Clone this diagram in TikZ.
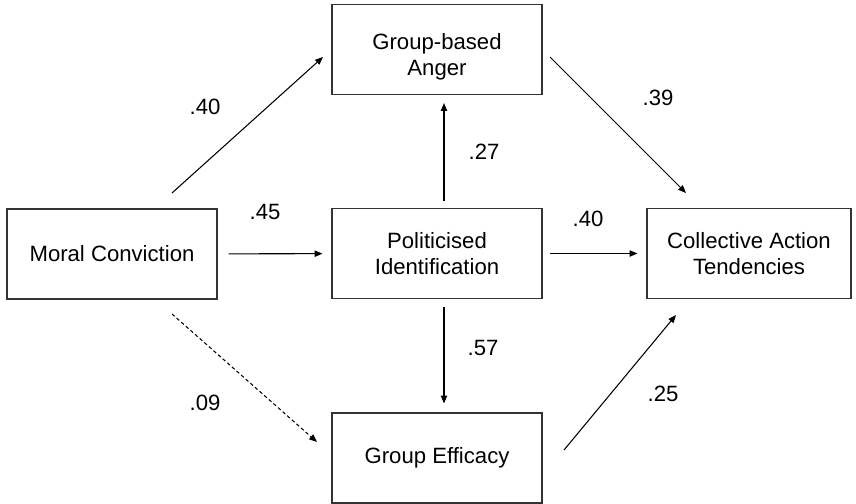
\documentclass[tikz,border=0pt]{standalone}
\usepackage{fontspec}
\setmainfont{Liberation Sans}
\usetikzlibrary{arrows.meta, positioning}
\tikzset{
  box/.style = {rectangle, minimum width=4.2cm, minimum height=1.8cm, text centered, align=center, draw=black!80, line width=0.6pt},
  link/.style = {-{Triangle[length=4.5pt,width=3.6pt]}, line width=0.6pt, black},
  weak/.style = {link, dash pattern=on 2pt off 1.5pt},
  coef/.style = {inner sep=0pt}
}

\begin{document}
\begin{tikzpicture}[x=0.02cm, y=-0.02cm, font=\fontsize{12.6}{14.7}\selectfont]
		\useasboundingbox (0,0) rectangle (856,504);
		\node (Moral)[box] at (112,254) {Moral Conviction};
		\node (Anger)[box] at (437,49.5) {\rule{0pt}{17pt}Group-based\\Anger};
		\node (Identity)[box] at (437,253.5) {Politicised\\Identification};
		\node (Efficacy)[box] at (437,458) {Group Efficacy};
		\node (Action)[box, minimum width=4.08cm] at (749,253.5) {Collective Action\\Tendencies};
		% free ends of the diagonal paths
		\coordinate (Moral up) at (172,193);
		\coordinate (Anger in) at (323,57);
		\coordinate (Moral down) at (172,314);
		\coordinate (Efficacy in) at (317,442);
		\coordinate (Anger out) at (550,57);
		\coordinate (Action top) at (686,193);
		\coordinate (Efficacy out) at (564,450);
		\coordinate (Action bottom) at (676,315);
		\draw [link] (Moral up) -- (Anger in);
		\draw [weak] (Moral down) -- (Efficacy in);
		\draw [link] (Anger out) -- (Action top);
		\draw [link] (Efficacy out) -- (Action bottom);
		\draw [link, shorten <=0.22cm, shorten >=0.18cm] (Moral) -- (Identity);
		\draw [link, shorten <=0.14cm, shorten >=0.18cm] (Identity) -- (Action);
		\draw [link, shorten <=0.14cm, shorten >=0.16cm] ([xshift=0.14cm]Identity.north) -- ([xshift=0.14cm]Anger.south);
		\draw [link, shorten <=0.16cm, shorten >=0.18cm] ([xshift=0.14cm]Identity.south) -- ([xshift=0.14cm]Efficacy.north);
		% path coefficients
		\node (c40a)[coef] at (205,107) {.40};
		\node (c45)[coef] at (265,212) {.45};
		\node (c09)[coef] at (205,403) {.09};
		\node (c27)[coef] at (484,152) {.27};
		\node (c57)[coef] at (483,348) {.57};
		\node (c39)[coef] at (658,98) {.39};
		\node (c40b)[coef] at (588,219) {.40};
		\node (c25)[coef] at (663,394) {.25};
	\end{tikzpicture}
\end{document}
